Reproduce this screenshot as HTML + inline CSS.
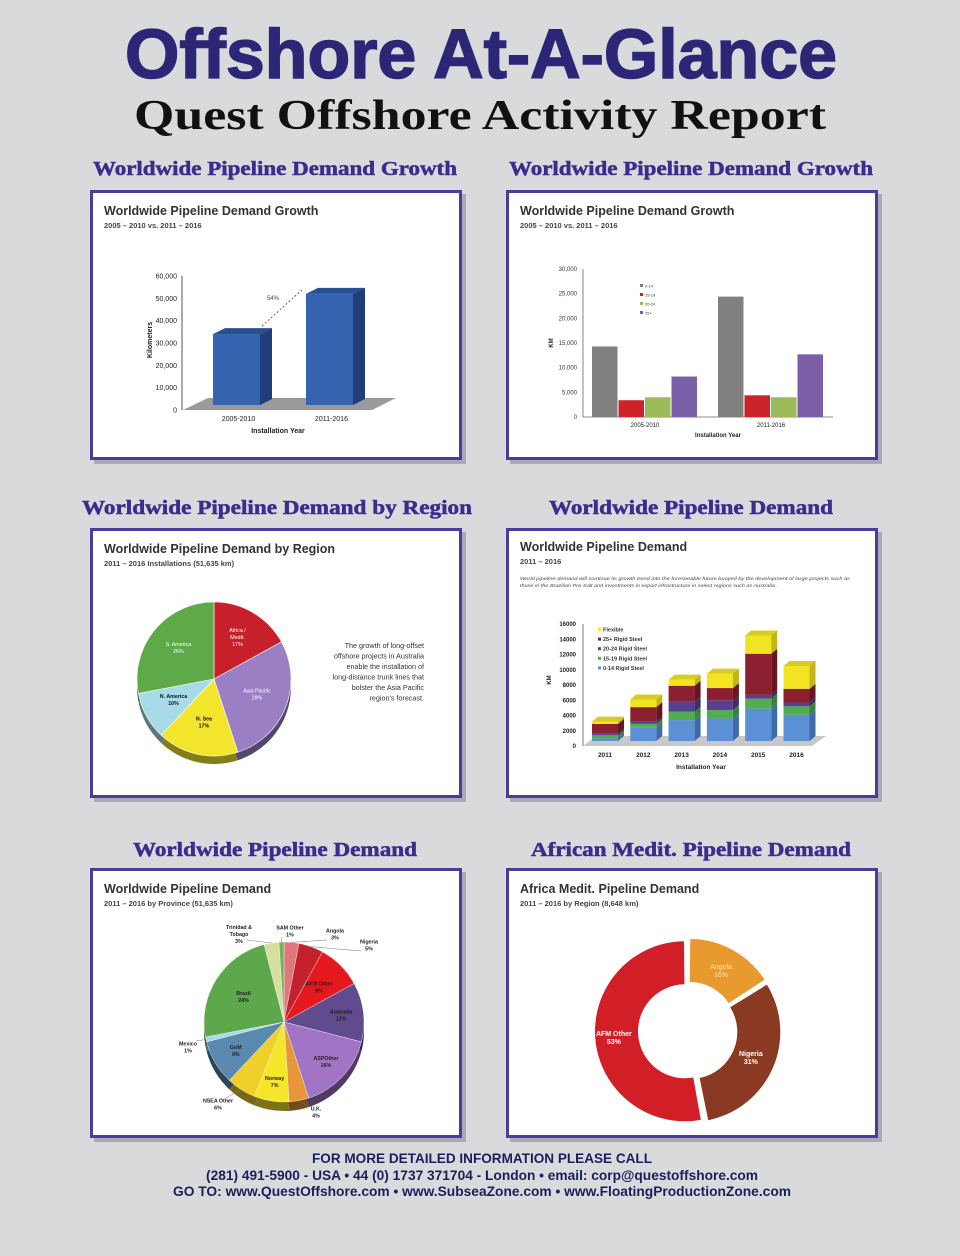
<!DOCTYPE html>
<html><head><meta charset="utf-8">
<style>
html,body{margin:0;padding:0;background:#d9dadc;}
svg{display:block;}
text{font-family:"Liberation Sans",sans-serif;}
.serif{font-family:"Liberation Serif",serif;}
</style></head>
<body>
<svg id="page" width="960" height="1256" viewBox="0 0 960 1256" xmlns="http://www.w3.org/2000/svg">
<rect x="0" y="0" width="960" height="1256" fill="#d9dadc"/>
<text x="481" y="78" text-anchor="middle" font-size="70" font-weight="bold" fill="#2d2676" stroke="#2d2676" stroke-width="1.5" textLength="712" lengthAdjust="spacingAndGlyphs">Offshore At-A-Glance</text>
<text class="serif" x="480" y="129" text-anchor="middle" font-size="42" font-weight="bold" fill="#111" textLength="692" lengthAdjust="spacingAndGlyphs">Quest Offshore Activity Report</text>

<text class="serif" x="275" y="175" text-anchor="middle" font-size="20" font-weight="bold" fill="#3a2d8e" stroke="#3a2d8e" stroke-width="0.5" textLength="364" lengthAdjust="spacingAndGlyphs">Worldwide Pipeline Demand Growth</text>
<text class="serif" x="691" y="175" text-anchor="middle" font-size="20" font-weight="bold" fill="#3a2d8e" stroke="#3a2d8e" stroke-width="0.5" textLength="364" lengthAdjust="spacingAndGlyphs">Worldwide Pipeline Demand Growth</text>
<text class="serif" x="277" y="514" text-anchor="middle" font-size="20" font-weight="bold" fill="#3a2d8e" stroke="#3a2d8e" stroke-width="0.5" textLength="390" lengthAdjust="spacingAndGlyphs">Worldwide Pipeline Demand by Region</text>
<text class="serif" x="691" y="514" text-anchor="middle" font-size="20" font-weight="bold" fill="#3a2d8e" stroke="#3a2d8e" stroke-width="0.5" textLength="284" lengthAdjust="spacingAndGlyphs">Worldwide Pipeline Demand</text>
<text class="serif" x="275" y="856" text-anchor="middle" font-size="20" font-weight="bold" fill="#3a2d8e" stroke="#3a2d8e" stroke-width="0.5" textLength="284" lengthAdjust="spacingAndGlyphs">Worldwide Pipeline Demand</text>
<text class="serif" x="691" y="856" text-anchor="middle" font-size="20" font-weight="bold" fill="#3a2d8e" stroke="#3a2d8e" stroke-width="0.5" textLength="320" lengthAdjust="spacingAndGlyphs">African Medit. Pipeline Demand</text>

<g id="panels"></g>
<g id="c1"></g><g id="c2"></g><g id="c3"></g><g id="c4"></g><g id="c5"></g><g id="c6"></g>

<text x="482" y="1163" text-anchor="middle" font-size="13.5" font-weight="bold" fill="#1d1d5c" textLength="340" lengthAdjust="spacingAndGlyphs">FOR MORE DETAILED INFORMATION PLEASE CALL</text>
<text x="482" y="1180" text-anchor="middle" font-size="13.5" font-weight="bold" fill="#1d1d5c" textLength="552" lengthAdjust="spacingAndGlyphs">(281) 491-5900 - USA  •  44 (0) 1737 371704 - London  •  email: corp@questoffshore.com</text>
<text x="482" y="1196" text-anchor="middle" font-size="13.5" font-weight="bold" fill="#1d1d5c" textLength="618" lengthAdjust="spacingAndGlyphs">GO TO:  www.QuestOffshore.com •  www.SubseaZone.com  •  www.FloatingProductionZone.com</text>
</svg>
<script>
const NS="http://www.w3.org/2000/svg";
function mk(tag,attrs,parent){const e=document.createElementNS(NS,tag);for(const k in attrs)e.setAttribute(k,attrs[k]);parent.appendChild(e);return e;}
function tx(str,attrs,parent){const e=mk('text',attrs,parent);e.textContent=str;return e;}

/* ---------- data ---------- */
const c1Cats=['2005-2010','2011-2016'];
const c1Vals=[34000,52000];
const c1Ticks=[0,10000,20000,30000,40000,50000,60000];
const c1GrowthLabel=['54%'];

const c2Cats=['2005-2010','2011-2016'];
const c2Series=['0-14','15-19','20-24','25+'];
const c2Gray=[14300,24400];
const c2Red=[3400,4400];
const c2Green=[4000,4000];
const c2Purple=[8200,12700];
const c2Ticks=[0,5000,10000,15000,20000,25000,30000];

const c3Years=['2011','2012','2013','2014','2015','2016'];
const c3Rigid014=[1000,2400,3400,3600,4900,4100];
const c3Rigid1519=[400,500,1100,1100,1300,1100];
const c3Rigid2024=[200,300,1300,1300,500,500];
const c3Rigid25=[1300,1900,2100,1600,5400,1800];
const c3Flexible=[300,1000,800,1900,2400,3000];
const c3Legend=['Flexible','25+ Rigid Steel','20-24 Rigid Steel','15-19 Rigid Steel','0-14 Rigid Steel'];
const c3Ticks=[0,2000,4000,6000,8000,10000,12000,14000,16000];

const c4Labels=['Africa / Medit.','Asia Pacific','N. Sea','N. America','S. America'];
const c4Vals=[17,28,17,10,28];
const c4Printed=['17%','28%','17%','10%','26%'];

const c5Labels=['Angola','Nigeria','AFM Other','Australia','ASPOther','U.K.','Norway','NSEA Other','GoM','Mexico','Brazil','Trinidad & Tobago','SAM Other'];
const c5Vals=[3,5,9,12,16,4,7,6,9,1,24,3,1];

const c6Labels=['Angola','Nigeria','AFM Other'];
const c6Vals=[16,31,53];

/* ---------- panels ---------- */
const P=document.getElementById('panels');
const panels=[[90,190,'panel-growth-total'],[506,190,'panel-growth-by-diameter'],[90,528,'panel-region-pie'],[506,528,'panel-stacked-demand'],[90,868,'panel-province-pie'],[506,868,'panel-africa-donut']];
panels.forEach(p=>{
  const s=mk('rect',{x:p[0]+4,y:p[1]+4,width:372,height:270,fill:'#a9a9b8'},P);
  
  
  const r=mk('rect',{x:p[0]+1.5,y:p[1]+1.5,width:369,height:267,fill:'#fff',stroke:'#4a3b9c','stroke-width':3},P);
  
  
});
function ptitle(g,x,y,t,s){
  const a=tx(t,{x:x,y:y,'font-size':12.5,'font-weight':'bold',fill:'#333'},g);
  
  
  const b=tx(s,{x:x,y:y+13,'font-size':7.5,'font-weight':'bold',fill:'#444'},g);
  
  
}

/* ---------- chart 1 ---------- */
(function(){
  const g=document.getElementById('c1');
  ptitle(g,104,215,'Worldwide Pipeline Demand Growth','2005 – 2010 vs. 2011 – 2016');
  const y0=410,h=134,ymax=60000;const y=v=>y0-v/ymax*h;
  const floor=mk('polygon',{points:'183,410 372,410 396,398 208,398',fill:'#9a9a9a'},g);
  
  
  mk('line',{x1:182,y1:y(ymax),x2:182,y2:y0,stroke:'#555','stroke-width':1},g);
  c1Ticks.forEach(t=>{
    const l=tx(t===0?'0':t.toLocaleString('en-US'),{x:177,y:y(t)+2.5,'font-size':7,'text-anchor':'end',fill:'#222'},g);
    
    
  });
  const yl=tx('Kilometers',{x:0,y:0,'font-size':7,'font-weight':'bold',fill:'#222','text-anchor':'middle',transform:'translate(152,340) rotate(-90)'},g);
  
  
  const bx=i=>213+i*93,w=47,d=12,base=405;
  c1Vals.forEach((v,i)=>{
    const x=bx(i),t=y(v);
    const s=mk('polygon',{points:`${x+w},${t} ${x+w+d},${t-6} ${x+w+d},${base-6} ${x+w},${base}`,fill:'#1f3d78'},g);
    
    
    const tp=mk('polygon',{points:`${x},${t} ${x+d},${t-6} ${x+w+d},${t-6} ${x+w},${t}`,fill:'#2a4f8f'},g);
    
    
    const r=mk('rect',{x:x,y:t,width:w,height:base-t,fill:'#3563b0'},g);
    
    
    const c=tx(c1Cats[i],{x:x+w/2+2,y:421,'font-size':7,'text-anchor':'middle',fill:'#222'},g);
    
    
  });
  const dl=mk('line',{x1:bx(0)+w+2,y1:y(c1Vals[0])-8,x2:bx(1)-4,y2:y(c1Vals[1])-4,stroke:'#444','stroke-width':0.8,'stroke-dasharray':'2,2'},g);
  
  
  const gl=tx(c1GrowthLabel[0],{x:273,y:300,'font-size':6,fill:'#444','text-anchor':'middle'},g);
  
  
  const xt=tx('Installation Year',{x:278,y:433,'font-size':7,'font-weight':'bold','text-anchor':'middle',fill:'#222'},g);
  
  
})();

/* ---------- chart 2 ---------- */
(function(){
  const g=document.getElementById('c2');
  ptitle(g,520,215,'Worldwide Pipeline Demand Growth','2005 – 2010 vs. 2011 – 2016');
  const y0=417,h=148,ymax=30000;const y=v=>y0-v/ymax*h;
  mk('line',{x1:583,y1:y(ymax),x2:583,y2:y0,stroke:'#666','stroke-width':0.8},g);
  mk('line',{x1:583,y1:y0,x2:833,y2:y0,stroke:'#666','stroke-width':0.8},g);
  c2Ticks.forEach(t=>{
    const l=tx(t===0?'0':t.toLocaleString('en-US'),{x:577,y:y(t)+2,'font-size':6,'text-anchor':'end',fill:'#333'},g);
    
    
  });
  const yl=tx('KM',{x:0,y:0,'font-size':6,'font-weight':'bold','text-anchor':'middle',fill:'#222',transform:'translate(553,343) rotate(-90)'},g);
  
  
  const series=[c2Gray,c2Red,c2Green,c2Purple];
  const cols=['#808080','#cc2229','#9bbb59','#7b5fa8'];
  c2Cats.forEach((c,i)=>{
    const gx=592+i*126;
    series.forEach((s,j)=>{
      const r=mk('rect',{x:gx+j*26.5,y:y(s[i]),width:25.5,height:y0-y(s[i]),fill:cols[j]},g);
      
      
    });
    const l=tx(c,{x:gx+53,y:427,'font-size':6,'text-anchor':'middle',fill:'#222'},g);
    
    
  });
  c2Series.forEach((s,j)=>{
    const r=mk('rect',{x:640,y:284+j*9,width:3,height:3,fill:cols[j]},g);
    
    
    const l=tx(s,{x:645,y:287.5+j*9,'font-size':4,fill:'#333'},g);
    
    
  });
  const xt=tx('Installation Year',{x:718,y:437,'font-size':6,'font-weight':'bold','text-anchor':'middle',fill:'#222'},g);
  
  
})();

/* ---------- chart 3 ---------- */
(function(){
  const g=document.getElementById('c3');
  ptitle(g,520,551,'Worldwide Pipeline Demand','2011 – 2016');
  const n1=tx('World pipeline demand will continue its growth trend into the foreseeable future buoyed by the development of large projects such as',{x:520,y:580,'font-size':4.2,'font-style':'italic',fill:'#444',textLength:330,lengthAdjust:'spacingAndGlyphs'},g);
  
  
  const n2=tx('those in the Brazilian Pre-Salt and investments in export infrastructure in select regions such as Australia .',{x:520,y:587,'font-size':4.2,'font-style':'italic',fill:'#444',textLength:258,lengthAdjust:'spacingAndGlyphs'},g);
  
  
  const y0=746,h=122,ymax=16000;const y=v=>y0-v/ymax*h;
  const fl=mk('polygon',{points:'583,746 812,746 826,736 596,736',fill:'#c8c8c8'},g);
  
  
  mk('line',{x1:583,y1:y(ymax),x2:583,y2:y0,stroke:'#555','stroke-width':0.8},g);
  c3Ticks.forEach(t=>{
    const l=tx(String(t),{x:576,y:y(t)+2,'font-size':6,'font-weight':'bold','text-anchor':'end',fill:'#222'},g);
    
    
  });
  const yl=tx('KM',{x:0,y:0,'font-size':6,'font-weight':'bold','text-anchor':'middle',fill:'#222',transform:'translate(551,680) rotate(-90)'},g);
  
  
  const stacks=[c3Rigid014,c3Rigid1519,c3Rigid2024,c3Rigid25,c3Flexible];
  const names=['0-14','15-19','20-24','25plus','flexible'];
  const cols=['#5b8fd6','#4fae4f','#5a3f8f','#8b2030','#f2e422'];
  const sides=['#3d6aa8','#3a823a','#402c68','#651620','#c2b41a'];
  const w=26,d=6,base=741;
  c3Years.forEach((yr,i)=>{
    const x=592+i*38.3;let cum=0;
    stacks.forEach((s,j)=>{
      const top=y(cum+s[i]),bot=j===0?base:y(cum);
      const sd=mk('polygon',{points:`${x+w},${top} ${x+w+d},${top-5} ${x+w+d},${bot-5} ${x+w},${bot}`,fill:sides[j]},g);
      
      
      const r=mk('rect',{x:x,y:top,width:w,height:bot-top,fill:cols[j]},g);
      
      
      cum+=s[i];
    });
    const t=y(cum);
    const tp=mk('polygon',{points:`${x},${t} ${x+d},${t-5} ${x+w+d},${t-5} ${x+w},${t}`,fill:'#d8cc20'},g);
    
    
    const l=tx(yr,{x:x+w/2,y:757,'font-size':6.5,'font-weight':'bold','text-anchor':'middle',fill:'#222'},g);
    
    
  });
  const lc=['#f2e422','#8b2030','#5a3f8f','#4fae4f','#5b8fd6'];
  c3Legend.forEach((s,j)=>{
    const r=mk('rect',{x:598,y:628+j*9.6,width:3,height:3,fill:lc[j]},g);
    
    
    const l=tx(s,{x:603,y:631.5+j*9.6,'font-size':5.5,'font-weight':'bold',fill:'#333'},g);
    
    
  });
  const xt=tx('Installation Year',{x:701,y:769,'font-size':6.5,'font-weight':'bold','text-anchor':'middle',fill:'#222'},g);
  
  
})();

/* ---------- pie helper ---------- */
function arc(cx,cy,r,a0,a1,ri){
  const p=(a,rr)=>[cx+rr*Math.sin(a),cy-rr*Math.cos(a)];
  const lg=(a1-a0)>Math.PI?1:0;
  const [x0,y0]=p(a0,r),[x1,y1]=p(a1,r);
  if(!ri)return `M${cx},${cy} L${x0},${y0} A${r},${r} 0 ${lg} 1 ${x1},${y1} Z`;
  const [x2,y2]=p(a1,ri),[x3,y3]=p(a0,ri);
  return `M${x0},${y0} A${r},${r} 0 ${lg} 1 ${x1},${y1} L${x2},${y2} A${ri},${ri} 0 ${lg} 0 ${x3},${y3} Z`;
}
function shade(hex,f){const n=parseInt(hex.slice(1),16);const c=[n>>16,(n>>8)&255,n&255].map(v=>Math.round(v*f));return `rgb(${c[0]},${c[1]},${c[2]})`;}

/* ---------- chart 4 ---------- */
(function(){
  const g=document.getElementById('c4');
  ptitle(g,104,553,'Worldwide Pipeline Demand by Region','2011 – 2016  Installations (51,635 km)');
  const cx=214,cy=679,r=77,dep=8;
  const cols=['#c8202a','#9a7fc4','#f2e52c','#a8dbe8','#5eaa48'];
  const tot=c4Vals.reduce((a,b)=>a+b,0);
  let a=0;const angs=c4Vals.map(v=>{const s=a;a+=v/tot*2*Math.PI;return [s,a];});
  angs.forEach((an,i)=>{
    const p=mk('path',{d:arc(cx,cy+dep,r,an[0],an[1]),fill:shade(cols[i],0.55)},g);
    
    
  });
  angs.forEach((an,i)=>{
    const p=mk('path',{d:arc(cx,cy,r,an[0],an[1]),fill:cols[i],stroke:'#fff','stroke-width':0.6},g);
    
    
    const m=(an[0]+an[1])/2,lr=r*0.6;
    const lx=cx+lr*Math.sin(m),ly=cy-lr*Math.cos(m);
    const white=(i===0||i===1||i===4);
    const parts=c4Labels[i]==='Africa / Medit.'?['Africa /','Medit.',c4Printed[i]]:[c4Labels[i],c4Printed[i]];
    parts.forEach((t,k)=>{
      const l=tx(t,{x:lx,y:ly+k*7-(parts.length-1)*3.5,'font-size':5.3,'font-weight':white?'normal':'bold','text-anchor':'middle',fill:white?'#fff':'#111'},g);
      
      
    });
  });
  const lines=['The growth of long-offset','offshore projects in Australia','enable the installation of','long-distance trunk lines that','bolster the Asia Pacific',"region's forecast."];
  lines.forEach((t,k)=>{
    const l=tx(t,{x:424,y:648+k*10.5,'font-size':7.2,'text-anchor':'end',fill:'#333'},g);
    
    
  });
})();

/* ---------- chart 5 ---------- */
(function(){
  const g=document.getElementById('c5');
  ptitle(g,104,893,'Worldwide Pipeline Demand','2011 – 2016 by Province (51,635 km)');
  const cx=284,cy=1022,r=80,dep=9;
  const cols=['#e0767e','#c3222c','#e3191f','#5f4b8e','#a274c6','#e8963a','#f5e62a','#f0cf2a','#5a89b0','#a9d8ea','#5ca84a','#d6dea0','#6fb45c'];
  const tot=c5Vals.reduce((a,b)=>a+b,0);
  let a=0;const angs=c5Vals.map(v=>{const s=a;a+=v/tot*2*Math.PI;return [s,a];});
  angs.forEach((an,i)=>{
    const p=mk('path',{d:arc(cx,cy+dep,r,an[0],an[1]),fill:shade(cols[i],0.5)},g);
    
    
  });
  angs.forEach((an,i)=>{
    const p=mk('path',{d:arc(cx,cy,r,an[0],an[1]),fill:cols[i],stroke:'#fff','stroke-width':0.4},g);
    
    
  });
  const inside={2:0.62,3:0.72,4:0.72,6:0.75,8:0.7,10:0.6};
  const outside={0:[335,934],1:[369,945],5:[316,1112],7:[218,1104],9:[188,1047],11:[239,934],12:[290,931]};
  angs.forEach((an,i)=>{
    const m=(an[0]+an[1])/2;let lx,ly;
    if(inside[i]){lx=cx+r*inside[i]*Math.sin(m);ly=cy-r*inside[i]*Math.cos(m);}
    else{[lx,ly]=outside[i];
      const ex=cx+r*Math.sin(m),ey=cy-r*Math.cos(m);
      const ln=mk('line',{x1:ex,y1:ey,x2:lx+(lx>cx?-8:8),y2:ly+(ly<cy?6:-6),stroke:'#777','stroke-width':0.5},g);
      
      }
    const parts=c5Labels[i]==='Trinidad & Tobago'?['Trinidad &','Tobago',c5Vals[i]+'%']:[c5Labels[i],c5Vals[i]+'%'];
    parts.forEach((t,k)=>{
      const l=tx(t,{x:lx,y:ly+k*7-(parts.length-1)*3.5+2,'font-size':5.3,'font-weight':'bold','text-anchor':'middle',fill:'#222'},g);
      
      
    });
  });
})();

/* ---------- chart 6 ---------- */
(function(){
  const g=document.getElementById('c6');
  ptitle(g,520,893,'Africa Medit. Pipeline Demand','2011 – 2016 by Region (8,648 km)');
  const cx=688,cy=1031,r=90,ri=47;
  const cols=['#e89a2e','#8a3a22','#d21f27'];
  const lcol=['#fde2b0','#fff','#fff'];
  const tot=c6Vals.reduce((a,b)=>a+b,0);
  let a=0;
  c6Vals.forEach((v,i)=>{
    const s=a;a+=v/tot*2*Math.PI;const e=a;const m=(s+e)/2;
    const off=i===2?3:2.5;const gap=0.012;
    const ox=off*Math.sin(m),oy=-off*Math.cos(m);
    const p=mk('path',{d:arc(cx+ox,cy+oy,r,s+gap,e-gap,ri),fill:cols[i]},g);
    
    
    const lr=(r+ri)/2+(i===2?6:0);
    const lx=cx+lr*Math.sin(m),ly=cy-lr*Math.cos(m);
    [c6Labels[i],v+'%'].forEach((t,k)=>{
      const l=tx(t,{x:lx,y:ly+k*8-2,'font-size':7,'font-weight':i===0?'normal':'bold','text-anchor':'middle',fill:lcol[i]},g);
      
      
    });
  });
})();
</script>
</body></html>
